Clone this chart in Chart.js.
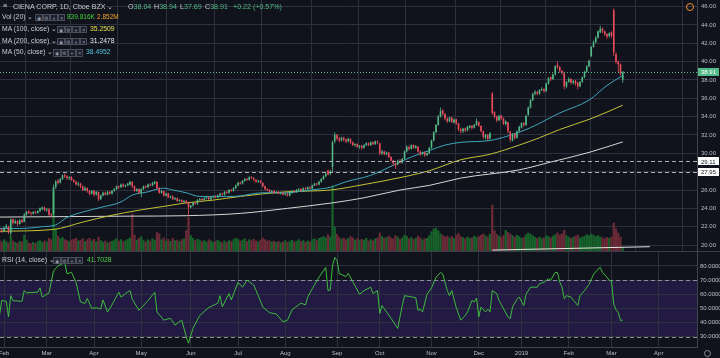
<!DOCTYPE html>
<html>
<head>
<meta charset="utf-8">
<script src="https://cdn.jsdelivr.net/npm/chart.js@4.4.1/dist/chart.umd.min.js"></script>
<style>
html,body{margin:0;padding:0;}
body{width:720px;height:358px;background:#10131b;position:relative;overflow:hidden;font-family:"Liberation Sans",Arial,sans-serif;color:#c9ccd4;}
canvas{position:absolute;left:0;display:block;}
#pc{top:0;}
#rc{top:252px;}
.t{position:absolute;white-space:nowrap;line-height:1;}
.h1{font-size:7.1px;}
.h2{font-size:6.8px;}
.ib{position:absolute;width:5.6px;height:5.6px;border:1px solid #4a4e5a;background:#1c2030;color:#9a9ea8;font-size:5px;line-height:6px;text-align:center;}
.sep{position:absolute;left:0;width:720px;height:1px;background:#3a3e4a;top:251px;}
.g{color:#53b987;}
</style>
</head>
<body>
<canvas id="pc" width="720" height="251"></canvas>
<div class="sep"></div>
<canvas id="rc" width="720" height="106"></canvas>

<div class="t h1" style="left:3px;top:3px;">≡</div>
<div class="t h1" style="left:13px;top:3.5px;">CIENA CORP, 1D, Cboe BZX ⌄</div>
<div class="t h1" style="left:128px;top:3.5px;">O<span class="g">38.04</span></div>
<div class="t h1" style="left:154px;top:3.5px;">H<span class="g">38.94</span></div>
<div class="t h1" style="left:180px;top:3.5px;">L<span class="g">37.69</span></div>
<div class="t h1" style="left:205px;top:3.5px;">C<span class="g">38.91</span></div>
<div class="t h1 g" style="left:233px;top:3.5px;">+0.22 (+0.57%)</div>

<div class="t h2" style="left:2px;top:13.5px;">Vol (20) ⌄</div>
<div class="t h2" style="left:67px;top:13.5px;color:#3ed33e;font-size:6.5px;">839.816K</div>
<div class="t h2" style="left:97px;top:13.5px;color:#f5a02a;font-size:6.5px;">2.852M</div>

<div class="t h2" style="left:2px;top:25.5px;">MA (100, close) ⌄</div>
<div class="t h2" style="left:90px;top:25.5px;color:#e6e14a;">35.2509</div>

<div class="t h2" style="left:2px;top:37.5px;">MA (200, close) ⌄</div>
<div class="t h2" style="left:90px;top:37.5px;color:#e6e6e6;">31.2478</div>

<div class="t h2" style="left:2px;top:49px;">MA (50, close) ⌄</div>
<div class="t h2" style="left:86px;top:49px;color:#4fc3d9;">38.4952</div>

<div class="t h2" style="left:2px;top:256.5px;">RSI (14, close) ⌄</div>
<div class="t h2" style="left:87px;top:256.5px;color:#4cd44c;">41.7028</div>

<div style="position:absolute;left:686px;top:3px;width:6px;height:6px;border:1px solid #f0902a;border-radius:50%;"></div>
<div style="position:absolute;left:704px;top:350px;width:5px;height:5px;border:1px solid #8a8e98;border-radius:50%;"></div>

<script>
// ---------- data ----------
const firstBar = -2;
const O = [
21.9,21.6,21.5,21.9,22.0,21.3,22.8,22.4,22.6,22.3,
22.7,22.5,23.3,23.7,23.5,23.4,23.6,23.5,23.7,23.9,
24.1,23.8,23.9,23.3,23.4,26.3,27.0,26.8,27.2,27.6,
27.5,27.3,27.4,27.1,26.9,26.6,26.7,26.4,26.0,26.2,
25.9,25.6,25.9,25.5,25.8,25.0,25.4,25.7,25.5,25.8,
25.6,25.9,26.1,26.4,26.3,26.6,26.4,26.5,26.6,26.9,
26.4,25.9,26.1,25.7,26.1,26.4,26.3,26.6,26.5,26.7,
26.9,26.2,25.7,25.9,25.4,25.6,25.2,25.3,25.0,25.1,
24.8,24.9,24.7,24.8,24.6,24.1,24.3,24.6,24.5,24.9,
25.0,24.9,25.1,25.2,25.0,25.2,25.3,25.2,25.4,25.6,
25.5,25.8,25.7,26.0,25.9,26.2,26.5,26.8,26.7,27.0,
27.2,27.1,27.4,27.3,27.1,26.9,27.0,26.8,26.4,26.1,
26.0,25.8,25.9,25.7,25.8,25.6,25.7,25.5,25.6,25.4,
25.7,25.9,25.8,26.0,26.1,25.9,26.2,26.1,26.3,26.2,
26.5,26.7,26.6,26.9,27.2,27.5,28.1,27.8,28.5,31.3,
32.0,31.6,31.4,31.7,31.5,31.3,31.6,31.2,30.9,31.0,
30.7,30.8,30.6,30.9,31.1,30.9,31.2,31.0,31.3,31.1,
30.0,30.2,29.9,30.1,29.6,29.2,28.9,28.8,29.2,29.0,
29.4,30.2,30.7,30.5,30.9,30.6,30.7,30.2,29.9,30.1,
29.8,30.0,30.6,31.4,32.3,33.1,34.0,34.7,34.3,33.8,
33.5,33.9,33.4,33.7,33.3,32.6,32.4,32.7,32.5,32.8,
33.0,32.8,33.1,33.4,33.0,32.4,31.7,32.0,31.6,36.5,
34.5,34.0,33.6,34.1,33.8,33.2,33.4,32.4,31.4,32.1,
31.7,32.4,32.8,33.3,33.1,34.2,35.0,35.8,36.5,36.7,
36.5,36.9,37.0,36.8,37.6,38.3,38.1,38.6,39.6,39.4,
39.0,38.8,37.3,37.8,38.1,37.7,37.9,37.7,37.3,37.8,
38.3,38.9,39.5,40.6,41.6,42.1,42.6,43.2,43.6,43.3,
43.0,42.8,43.2,45.6,40.8,40.0,39.7,38.04];
const H = [
22.0,21.8,22.0,22.3,22.1,22.9,22.9,22.8,22.7,22.8,
22.9,23.5,23.7,23.8,23.6,23.7,23.7,23.8,24.1,24.2,
24.2,24.0,24.0,23.5,26.6,27.1,27.2,27.3,27.7,27.8,
27.6,27.5,27.5,27.2,27.0,26.9,26.8,26.5,26.4,26.3,
26.0,26.0,26.0,25.9,25.8,25.5,25.8,25.8,25.9,25.9,
26.0,26.2,26.5,26.5,26.7,26.7,26.6,26.8,27.0,26.9,
26.5,26.2,26.2,26.2,26.5,26.5,26.7,26.7,26.9,27.0,
26.9,26.3,26.0,25.9,25.7,25.7,25.4,25.4,25.2,25.2,
25.0,25.0,24.9,24.9,24.7,24.4,24.7,24.7,25.0,25.1,
25.1,25.2,25.3,25.3,25.3,25.4,25.4,25.5,25.7,25.7,
25.9,25.9,26.1,26.1,26.3,26.6,26.9,26.9,27.1,27.3,
27.3,27.5,27.5,27.4,27.2,27.1,27.1,26.8,26.5,26.2,
26.1,26.0,26.0,25.9,25.9,25.8,25.8,25.7,25.7,25.8,
26.0,26.0,26.1,26.2,26.2,26.3,26.3,26.4,26.4,26.6,
26.8,26.8,27.0,27.3,27.6,27.9,28.2,28.2,31.4,32.3,
32.1,31.8,31.8,31.8,31.6,31.7,31.6,31.3,31.1,31.1,
30.9,30.9,31.0,31.2,31.2,31.3,31.3,31.4,31.4,31.1,
30.4,30.3,30.2,30.1,29.7,29.3,29.0,29.3,29.4,29.5,
30.3,30.9,30.8,31.0,31.0,30.9,30.8,30.3,30.2,30.2,
30.1,30.7,31.5,32.4,33.2,34.2,35.0,34.8,34.4,33.9,
34.0,34.0,33.8,33.8,33.3,32.8,32.8,32.8,33.0,33.1,
33.1,33.2,33.8,33.5,33.0,32.5,32.1,32.1,32.3,36.7,
34.6,34.1,34.2,34.2,33.9,33.6,33.4,32.4,32.2,32.2,
32.5,33.0,33.4,33.4,34.2,35.1,35.9,36.6,36.9,36.8,
37.0,37.2,37.1,37.7,38.3,38.4,38.7,39.6,40.0,39.5,
39.1,38.9,37.9,38.3,38.2,38.0,38.0,37.8,37.9,38.4,
39.0,39.6,40.2,41.7,42.3,42.8,43.4,43.9,43.7,43.4,
43.1,43.2,43.3,45.8,41.0,40.1,39.8,38.94];
const L = [
21.4,21.3,21.4,21.8,21.2,21.0,22.2,22.3,22.1,22.2,
22.4,22.5,23.2,23.4,23.2,23.3,23.4,23.4,23.6,23.8,
23.7,23.6,23.2,23.0,23.2,26.1,26.6,26.7,27.1,27.3,
27.1,27.1,27.0,26.8,26.5,26.4,26.2,25.9,25.9,25.7,
25.4,25.5,25.3,25.4,24.8,24.9,25.3,25.4,25.4,25.5,
25.5,25.8,26.0,26.1,26.2,26.3,26.3,26.4,26.5,26.2,
25.8,25.8,25.6,25.2,26.0,26.2,26.2,26.4,26.4,26.6,
26.1,25.6,25.6,25.3,25.3,25.1,25.1,24.9,24.9,24.7,
24.7,24.6,24.6,24.5,23.2,24.0,24.2,24.4,24.4,24.8,
24.8,24.8,25.0,24.9,24.9,25.1,25.1,25.1,25.3,25.4,
25.4,25.6,25.6,25.8,25.8,26.1,26.4,26.6,26.6,26.9,
27.0,27.0,27.2,27.0,26.8,26.8,26.7,26.3,26.0,25.9,
25.7,25.7,25.6,25.6,25.5,25.5,25.4,25.4,25.3,25.3,
25.6,25.7,25.7,25.9,25.8,25.8,26.0,26.0,26.1,26.1,
26.4,26.5,26.5,26.8,27.1,27.4,27.6,27.6,27.9,31.1,
31.4,31.2,31.3,31.3,31.1,31.2,31.0,30.8,30.7,30.6,
30.5,30.4,30.5,30.8,30.8,30.8,30.9,30.9,31.0,29.8,
29.8,29.8,29.8,29.5,29.1,28.7,28.3,28.7,28.9,28.9,
29.3,30.1,30.3,30.4,30.5,30.5,30.1,29.7,29.8,29.6,
29.7,29.9,30.5,31.3,32.2,33.0,33.9,34.1,33.6,33.3,
33.4,33.3,33.2,33.1,32.4,32.2,32.2,32.3,32.4,32.7,
32.6,32.7,33.0,32.9,32.3,31.6,31.5,31.4,31.5,34.2,
33.8,33.4,33.5,33.6,33.1,33.0,32.2,31.2,31.3,31.5,
31.6,32.3,32.7,32.9,33.0,34.1,34.9,35.7,36.3,36.3,
36.4,36.8,36.6,36.7,37.5,37.9,38.0,38.5,39.2,38.8,
38.6,37.0,37.1,37.7,37.5,37.5,37.4,37.0,37.2,37.7,
38.2,38.8,39.4,40.5,41.5,42.0,42.5,43.1,43.1,42.8,
42.5,42.6,42.6,40.6,39.8,38.8,38.5,37.69];
const C = [
21.6,21.5,21.9,22.1,21.4,22.8,22.4,22.6,22.3,22.7,
22.5,23.3,23.6,23.5,23.4,23.6,23.5,23.7,24.0,24.1,
23.8,23.9,23.3,23.2,26.3,26.9,26.8,27.2,27.6,27.5,
27.3,27.4,27.1,26.9,26.6,26.7,26.4,26.0,26.2,25.9,
25.6,25.9,25.5,25.8,25.0,25.4,25.7,25.5,25.8,25.6,
25.9,26.1,26.4,26.3,26.6,26.4,26.5,26.7,26.9,26.4,
25.9,26.1,25.7,26.1,26.4,26.3,26.6,26.5,26.8,26.9,
26.2,25.7,25.9,25.4,25.6,25.2,25.3,25.0,25.1,24.8,
24.9,24.7,24.8,24.6,24.1,24.3,24.6,24.5,24.9,25.0,
24.9,25.1,25.2,25.0,25.2,25.3,25.2,25.4,25.6,25.5,
25.8,25.7,26.0,25.9,26.2,26.5,26.8,26.7,27.0,27.2,
27.1,27.4,27.3,27.1,26.9,27.0,26.8,26.4,26.1,26.0,
25.8,25.9,25.7,25.8,25.6,25.7,25.5,25.6,25.4,25.7,
25.9,25.8,26.0,26.1,25.9,26.2,26.1,26.3,26.2,26.5,
26.7,26.6,26.9,27.2,27.5,27.8,27.7,28.0,31.2,32.0,
31.6,31.4,31.7,31.5,31.3,31.6,31.2,30.9,31.0,30.7,
30.8,30.6,30.9,31.1,30.9,31.2,31.0,31.3,31.2,30.0,
30.2,29.9,30.1,29.6,29.2,28.9,28.7,29.2,29.0,29.4,
30.2,30.7,30.5,30.9,30.6,30.8,30.2,29.9,30.1,29.8,
30.0,30.6,31.4,32.3,33.1,34.0,34.6,34.3,33.8,33.5,
33.9,33.4,33.7,33.3,32.6,32.4,32.7,32.5,32.9,33.0,
32.8,33.1,33.5,33.0,32.4,31.8,32.0,31.6,32.2,34.4,
34.0,33.6,34.1,33.8,33.2,33.5,32.4,31.5,32.1,31.7,
32.4,32.9,33.3,33.1,34.1,35.0,35.8,36.5,36.7,36.5,
36.9,37.0,36.8,37.6,38.2,38.1,38.6,39.5,39.4,39.0,
38.8,37.3,37.8,38.1,37.7,37.9,37.6,37.3,37.8,38.3,
38.9,39.5,40.1,41.6,42.1,42.6,43.3,43.6,43.3,43.0,
42.7,43.1,42.8,41.0,40.0,39.7,38.69,38.91];
const V = [
2.4,2.1,2.6,2.2,1.9,3.3,2.3,2.0,1.8,2.2,
2.1,3.6,2.5,1.9,1.7,2.0,1.8,2.2,2.4,2.0,
2.3,2.1,2.9,2.6,13.2,5.0,3.4,2.8,3.1,2.6,
2.4,2.2,2.5,2.7,2.9,2.3,2.5,2.8,2.2,2.6,
2.9,2.3,2.7,2.1,3.2,2.4,2.0,2.3,1.9,2.1,
2.2,2.5,2.8,2.3,2.6,2.2,2.4,2.7,3.0,8.4,
3.6,2.5,2.9,3.3,2.4,2.1,2.6,2.3,2.8,2.5,
4.2,3.9,2.6,3.0,2.3,2.7,2.2,2.9,2.4,2.5,
2.2,2.6,2.8,4.6,7.6,3.5,2.9,2.4,2.7,2.5,
2.2,2.4,2.1,2.6,2.3,2.0,2.2,2.5,2.1,1.9,
2.3,2.0,2.4,2.2,2.6,2.9,2.7,2.3,2.5,2.8,
2.2,2.6,2.4,2.7,2.3,2.1,2.5,3.0,2.6,2.3,
2.4,2.1,2.3,2.0,2.2,1.9,2.1,2.4,2.0,2.2,
2.5,2.1,2.3,2.6,2.2,2.4,2.0,2.3,2.1,2.6,
2.8,2.4,2.9,3.1,3.3,3.0,3.7,3.2,14.6,5.4,
3.8,3.1,2.7,3.0,2.6,2.9,3.3,3.0,2.5,2.8,
2.4,2.7,2.5,2.9,2.3,2.6,2.4,2.8,3.0,4.1,
3.3,2.9,3.1,3.4,3.0,2.8,3.5,3.2,2.7,3.0,
3.6,3.3,2.8,3.1,2.7,2.9,3.4,3.0,2.6,2.8,
2.9,3.5,4.4,5.0,5.2,4.6,3.9,3.6,3.2,3.4,
3.0,3.3,2.9,3.6,4.0,3.3,3.1,2.8,3.2,2.9,
3.0,3.4,3.1,3.3,3.6,3.9,3.5,3.2,3.8,10.3,
4.6,3.8,3.4,3.1,3.6,4.7,4.2,3.9,3.5,3.2,
3.6,3.3,2.9,3.1,3.7,4.1,3.8,3.5,3.1,2.9,
3.2,2.8,3.0,3.5,3.3,3.0,3.4,3.7,4.1,3.6,
3.9,4.7,3.5,3.2,2.9,3.1,3.4,3.6,3.0,3.2,
3.4,3.7,3.5,3.9,3.6,3.3,3.5,3.2,3.0,2.8,
3.1,2.9,3.2,6.3,5.0,4.1,3.2,0.84];

const ma50Idx = [-2,7,17,23,28,35,43,52,57,64,68,71,75,81,87,93,102,115,125,136,145,152,163,173,181,189,196,203,216,224,234,247,260,268,275];
const ma50Val = [21.8,21.8,22.0,22.2,23.0,23.6,24.1,24.7,25.45,25.8,26.1,26.2,26.0,25.7,25.3,25.3,25.3,25.7,25.7,26.0,26.3,26.9,27.6,28.7,29.6,30.3,30.9,31.2,31.4,31.9,32.8,34.4,35.8,37.4,38.4952];
const ma100Idx = [-2,22,35,47,60,72,81,93,105,125,145,160,176,189,203,216,229,238,247,260,268,275];
const ma100Val = [21.5,21.7,22.5,23.2,23.8,24.25,24.6,24.9,25.3,25.8,26.0,26.6,27.35,28.1,29.3,29.9,30.9,31.7,32.6,33.7,34.5,35.2509];
const ma200Idx = [-2,57,81,105,126,146,160,176,189,203,229,243,260,275];
const ma200Val = [23.05,23.15,23.2,23.45,24.0,24.6,25.15,26.0,26.5,27.3,28.2,29.05,30.1,31.2478];

const rsiIdx = [-2,-1,1,2,3,4,8,9,10,15,16,17,20,22,24,27,28,30,32,34,36,37,39,41,43,44,46,48,51,52,54,56,57,60,64,67,68,71,74,76,79,81,82,84,87,91,95,96,97,100,101,104,106,108,111,113,115,118,121,124,126,128,132,134,135,137,140,143,144,145,146,147,148,149,152,153,155,158,160,163,164,166,167,168,172,175,176,177,178,180,183,184,185,186,188,190,192,194,195,197,198,199,201,203,205,206,208,209,210,211,212,214,215,216,217,219,220,224,225,226,228,229,231,232,234,237,238,240,242,243,245,246,247,248,249,250,252,253,255,256,258,260,262,264,265,266,268,269,270,271,272,273,274,275];
const rsiVal = [45.2,55.6,55,44,59,55.5,55,62.6,61,61.5,64.5,58,61,76.6,80,82.4,74.5,75.5,68.5,54.5,53.5,57,50,50.5,49.5,56,47.5,52.5,61.5,58,60.5,62.6,56.5,48.6,55.6,61.5,47.5,41.7,43,38.2,41.7,30,25.4,36,45,50.6,53.7,59,51,60.5,56,68.4,65,70,66.5,59,51,47,46,40.5,41.7,49,53.7,52.5,58,64,72,79,62.6,63,80,86,84,74.7,72.5,74.7,69,60,62.6,65,60.5,62.6,46.4,52,43,35.8,44,52,59,58.5,57.5,48.6,49.5,47.5,60,64.5,72,75.4,74.3,62.6,59,62.6,50.6,41.7,45,47.5,55.6,54.5,57.3,44,51,47.5,49.5,47.5,62.6,60.5,55.6,44,42.8,51,56.5,58,52,60,65,65,67.5,68.5,71,70,75.4,75.4,68.6,65,56.8,59,58,56,52,59,62.6,67,74,77.8,79,75.4,72,69.8,69.5,53,49,47,41.5,41.7028];

const monthIdx = [0,19,40,61,83,104,125,148,167,190,211,230,251,270,291];
const monthLabels = ['Feb','Mar','Apr','May','Jun','Jul','Aug','Sep','Oct','Nov','Dec','2019','Feb','Mar','Apr'];
const priceTicks = [20,22,24,26,28,30,32,34,36,38,40,42,44,46];
const hiddenPriceTicks = [28];
const rsiTicks = [30,40,50,60,70,80];
const rsiBand = [30,70];
const levelLines = [29.11,27.95];
const trendIdx = [217,287];
const trendVal = [19.45,19.82];

// ---------- view ranges & styles ----------
const xMin = -1.78, xMax = 308;
const pMin = 19.35, pMax = 46.72;
const rMin = 22.7, rMax = 89.9;
const volMax = 56;
const gridC = '#2d313d', axisC = '#40444f', tickC = '#bcbfc8';
const upC = '#53b987', dnC = '#eb4d5c', volUp = '#17612a', volDn = '#6a2a38';
const tickFont = {family:'Liberation Sans', size:6};

const bars = O.map((_, k) => firstBar + k);
const isUp = k => C[k] >= O[k];
const pts = (xs, ys) => xs.map((x, k) => ({x, y: ys[k]}));

const priceDeco = {
  id: 'priceDeco',
  afterDatasetsDraw(chart) {
    const {ctx, chartArea: a, scales: {y}} = chart;
    ctx.save();
    ctx.lineWidth = 1;
    ctx.strokeStyle = '#a9acb5';
    ctx.setLineDash([4, 3]);
    levelLines.forEach(v => {
      const p = Math.round(y.getPixelForValue(v)) + 0.5;
      ctx.beginPath(); ctx.moveTo(a.left, p); ctx.lineTo(a.right, p); ctx.stroke();
    });
    ctx.strokeStyle = upC;
    ctx.setLineDash([1, 2]);
    const p = Math.round(y.getPixelForValue(C[C.length - 1])) + 0.5;
    ctx.beginPath(); ctx.moveTo(a.left, p); ctx.lineTo(a.right, p); ctx.stroke();
    ctx.restore();
  },
  afterDraw(chart) {
    const {ctx, chartArea: a, scales: {y}} = chart;
    ctx.save();
    ctx.font = '6px "Liberation Sans"';
    ctx.textBaseline = 'middle';
    const box = (v, bg, fg) => {
      const p = y.getPixelForValue(v);
      ctx.fillStyle = bg; ctx.fillRect(a.right + 1, Math.round(p) - 4, 21, 8);
      ctx.fillStyle = fg; ctx.fillText(v.toFixed(2), a.right + 4, p + 0.5);
    };
    levelLines.forEach(v => box(v, '#ffffff', '#131722'));
    box(C[C.length - 1], upC, '#ffffff');
    ctx.restore();
  }
};

new Chart(document.getElementById('pc'), {
  type: 'bar',
  data: {
    datasets: [
      {type:'bar', data: pts(bars, V), yAxisID:'yv', grouped:false, barThickness:2.3, inflateAmount:0,
        backgroundColor: c => isUp(c.dataIndex) ? volUp : volDn, order:10},
      {type:'line', data: pts(ma200Idx, ma200Val), borderColor:'#d6d6d6', borderWidth:1, pointRadius:0, cubicInterpolationMode:'monotone', order:6},
      {type:'line', data: pts(ma100Idx, ma100Val), borderColor:'#c3c236', borderWidth:1, pointRadius:0, cubicInterpolationMode:'monotone', order:5},
      {type:'line', data: pts(ma50Idx, ma50Val), borderColor:'#3ba7bb', borderWidth:1, pointRadius:0, cubicInterpolationMode:'monotone', order:4},
      {type:'line', data: pts(trendIdx, trendVal), borderColor:'#e6e6e6', borderWidth:1, pointRadius:0, order:3},
      {type:'bar', data: bars.map((x, k) => ({x, y:[L[k], H[k]]})), grouped:false, barThickness:0.8, inflateAmount:0,
        backgroundColor: c => isUp(c.dataIndex) ? upC : dnC, order:2},
      {type:'bar', data: bars.map((x, k) => ({x, y:[O[k], C[k]]})), grouped:false, barThickness:1.6, inflateAmount:0, minBarLength:1,
        backgroundColor: c => isUp(c.dataIndex) ? upC : dnC, order:1}
    ]
  },
  options: {
    responsive:false, animation:false, maintainAspectRatio:false,
    layout:{padding:0},
    plugins:{legend:{display:false}, tooltip:{enabled:false}},
    scales: {
      x: {type:'linear', min:xMin, max:xMax, offset:false, bounds:'data',
        afterBuildTicks: s => { s.ticks = monthIdx.map(v => ({value:v})); },
        ticks:{display:false}, grid:{color:gridC, drawTicks:false}, border:{display:false},
        afterFit: s => { s.height = 0; s.paddingLeft = 0; s.paddingRight = 0; }},
      y: {position:'right', min:pMin, max:pMax, bounds:'data',
        afterBuildTicks: s => { s.ticks = priceTicks.map(v => ({value:v})); },
        ticks:{font:tickFont, color:tickC, padding:4,
          callback: v => hiddenPriceTicks.includes(v) ? '' : v.toFixed(2)},
        grid:{color:gridC, drawTicks:false}, border:{display:true, color:axisC},
        afterFit: s => { s.width = 23; s.paddingTop = 0; s.paddingBottom = 0; }},
      yv: {display:false, min:0, max:volMax}
    }
  },
  plugins:[priceDeco]
});

const rsiDeco = {
  id: 'rsiDeco',
  beforeDraw(chart) {
    const {ctx, chartArea: a, scales: {y}} = chart;
    const t = y.getPixelForValue(rsiBand[1]), b = y.getPixelForValue(rsiBand[0]);
    ctx.save(); ctx.fillStyle = '#221a42'; ctx.fillRect(a.left, t, a.right - a.left, b - t); ctx.restore();
  },
  beforeDatasetsDraw(chart) {
    const {ctx, chartArea: a, scales: {y}} = chart;
    ctx.save(); ctx.strokeStyle = '#8e8ea3'; ctx.lineWidth = 1; ctx.setLineDash([4, 3]);
    rsiBand.forEach(v => {
      const p = Math.round(y.getPixelForValue(v)) + 0.5;
      ctx.beginPath(); ctx.moveTo(a.left, p); ctx.lineTo(a.right, p); ctx.stroke();
    });
    ctx.restore();
  }
};

new Chart(document.getElementById('rc'), {
  type: 'line',
  data: { datasets: [
    {data: pts(rsiIdx, rsiVal), borderColor:'#3dbb3d', borderWidth:1, pointRadius:0, tension:0}
  ]},
  options: {
    responsive:false, animation:false, maintainAspectRatio:false,
    layout:{padding:0},
    plugins:{legend:{display:false}, tooltip:{enabled:false}},
    scales: {
      x: {type:'linear', min:xMin, max:xMax, offset:false, bounds:'data',
        afterBuildTicks: s => { s.ticks = monthIdx.map(v => ({value:v})); },
        ticks:{font:tickFont, color:tickC, padding:3, maxRotation:0, autoSkip:false,
          callback: (v, i) => monthLabels[i]},
        grid:{color:gridC, drawTicks:false}, border:{display:true, color:axisC},
        afterFit: s => { s.height = 11; s.paddingLeft = 0; s.paddingRight = 0; }},
      y: {position:'right', min:rMin, max:rMax, bounds:'data',
        afterBuildTicks: s => { s.ticks = rsiTicks.map(v => ({value:v})); },
        ticks:{font:tickFont, color:tickC, padding:3, callback: v => v.toFixed(4)},
        grid:{color:gridC, drawTicks:false}, border:{display:true, color:axisC},
        afterFit: s => { s.width = 23; s.paddingTop = 0; s.paddingBottom = 0; }}
    }
  },
  plugins:[rsiDeco]
});

// indicator header buttons
const iconRows = [[35,13.5],[57,25.5],[57,37.5],[53,49],[53,256.5]];
const glyphs = ['◉','⚙','+','×'];
iconRows.forEach(([lx, ty]) => glyphs.forEach((g, j) => {
  const d = document.createElement('div');
  d.className = 'ib'; d.textContent = g;
  d.style.left = (lx + j * 7.6) + 'px'; d.style.top = ty + 'px';
  document.body.appendChild(d);
}));
</script>
</body>
</html>
